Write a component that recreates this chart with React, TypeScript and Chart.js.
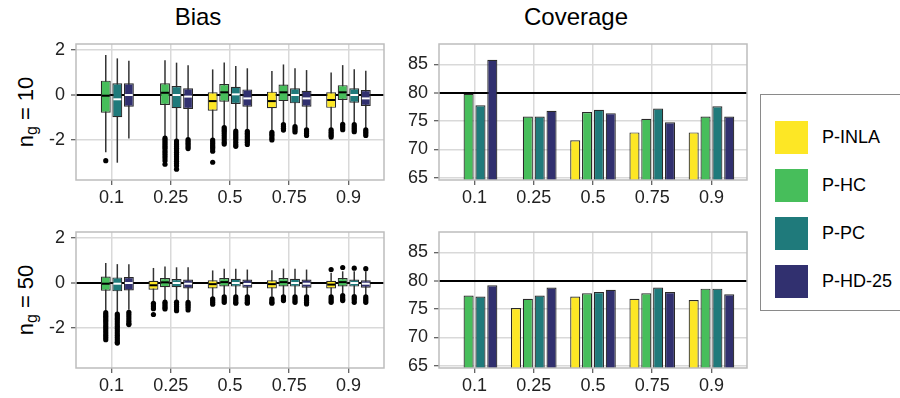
import React, { useEffect, useRef } from 'react';
import { Chart, registerables } from 'chart.js';
Chart.register(...registerables);

const categories = ['0.1', '0.25', '0.5', '0.75', '0.9'];
const methods = ['P-INLA', 'P-HC', 'P-PC', 'P-HD-25'];
const methodColors = ['#FDE725', '#47BE5B', '#1F7A7B', '#31306F'];
const medianColors = ['#000000', '#000000', '#FFFFFF', '#FFFFFF'];
const biasTicks = [-2, 0, 2];
const coverageTicks = [65, 70, 75, 80, 85];
const biasRange = [-3.78, 2.27];
const coverageRange = [64.6, 88.6];
const biasRef = 0;
const coverageRef = 80;

// ---- Bias, n_g = 10 (rows: methods, cols: categories) ----
const bias10Q3 = [
  [null, null, 0.12, 0.15, 0.12],
  [0.64, 0.52, 0.49, 0.47, 0.44],
  [0.52, 0.40, 0.37, 0.30, 0.30],
  [0.52, 0.30, 0.25, 0.19, 0.22],
];
const bias10Med = [
  [null, null, -0.27, -0.27, -0.22],
  [-0.03, 0.10, 0.12, 0.12, 0.12],
  [-0.19, 0.00, 0.03, 0.00, 0.00],
  [0.00, -0.07, -0.15, -0.15, -0.15],
];
const bias10Q1 = [
  [null, null, -0.70, -0.59, -0.57],
  [-0.79, -0.44, -0.30, -0.27, -0.22],
  [-0.99, -0.59, -0.40, -0.37, -0.34],
  [-0.52, -0.62, -0.52, -0.52, -0.49],
];
const bias10Hi = [
  [null, null, 1.14, 1.07, 1.00],
  [1.78, 1.55, 1.45, 1.36, 1.33],
  [1.63, 1.44, 1.29, 1.19, 1.15],
  [1.53, 1.33, 1.19, 1.11, 1.08],
];
const bias10Lo = [
  [null, null, -1.93, -1.59, -1.48],
  [-2.54, -1.85, -1.38, -1.26, -1.23],
  [-3.01, -2.00, -1.52, -1.33, -1.26],
  [-1.93, -1.90, -1.56, -1.48, -1.48],
];
const bias10Out = [
  [[], [], [-2.0, -2.08, -2.16, -2.24, -2.32, -2.4, -2.5, -2.99], [-1.66, -1.74, -1.82, -1.92, -2.0], [-1.55, -1.63, -1.71, -1.79, -1.87]],
  [[-2.92], [-1.92, -2.0, -2.08, -2.16, -2.24, -2.32, -2.4, -2.5, -2.6, -2.7, -2.8, -2.92, -3.08], [-1.45, -1.53, -1.61, -1.7, -1.8, -1.9, -2.0, -2.1, -2.18], [-1.32, -1.4, -1.48, -1.56], [-1.3, -1.38, -1.46, -1.54]],
  [[], [-2.05, -2.13, -2.21, -2.29, -2.37, -2.45, -2.55, -2.65, -2.75, -2.85, -2.95, -3.05, -3.15, -3.3], [-1.6, -1.68, -1.76, -1.84, -1.92, -2.0, -2.1, -2.2, -2.28], [-1.4, -1.48, -1.56, -1.64], [-1.32, -1.4, -1.48, -1.56, -1.63]],
  [[], [-1.98, -2.06, -2.14, -2.22, -2.3, -2.38], [-1.62, -1.7, -1.78, -1.86, -1.94, -2.02, -2.1, -2.2], [-1.55, -1.63, -1.71, -1.8], [-1.55, -1.63, -1.71, -1.8]],
];

// ---- Bias, n_g = 50 ----
const bias50Q3 = [
  [null, 0.10, 0.12, 0.12, 0.10],
  [0.29, 0.22, 0.22, 0.22, 0.22],
  [0.25, 0.18, 0.19, 0.19, 0.16],
  [0.27, 0.16, 0.16, 0.16, 0.12],
];
const bias50Med = [
  [null, -0.10, -0.05, -0.05, -0.07],
  [-0.03, 0.03, 0.04, 0.04, 0.04],
  [-0.03, 0.00, 0.00, 0.00, 0.00],
  [0.00, -0.03, -0.04, -0.03, -0.03],
];
const bias50Q1 = [
  [null, -0.30, -0.24, -0.24, -0.24],
  [-0.34, -0.19, -0.15, -0.15, -0.15],
  [-0.37, -0.19, -0.16, -0.16, -0.16],
  [-0.33, -0.24, -0.21, -0.21, -0.21],
];
const bias50Hi = [
  [null, 0.67, 0.56, 0.57, 0.45],
  [0.89, 0.74, 0.64, 0.64, 0.52],
  [0.84, 0.70, 0.64, 0.64, 0.52],
  [0.84, 0.70, 0.60, 0.60, 0.52],
];
const bias50Lo = [
  [null, -0.85, -0.64, -0.60, -0.55],
  [-1.29, -0.79, -0.55, -0.55, -0.49],
  [-1.33, -0.79, -0.55, -0.55, -0.52],
  [-1.19, -0.80, -0.55, -0.55, -0.55],
];
const bias50Out = [
  [[], [-0.9, -0.98, -1.06, -1.14, -1.4], [-0.7, -0.78, -0.86, -0.94], [-0.7, -0.78, -0.86, -0.9], [0.6, -0.62, -0.7, -0.78, -0.86]],
  [[-1.32, -1.4, -1.48, -1.56, -1.64, -1.72, -1.82, -1.92, -2.02, -2.12, -2.22, -2.32, -2.42, -2.52], [-0.85, -0.93, -1.01, -1.09, -1.15], [-0.62, -0.7, -0.78, -0.86], [-0.62, -0.7, -0.78], [0.69, -0.56, -0.64, -0.72, -0.78]],
  [[-1.38, -1.46, -1.54, -1.62, -1.72, -1.82, -1.92, -2.02, -2.12, -2.22, -2.32, -2.42, -2.52, -2.62, -2.67], [-0.85, -0.95, -1.05, -1.15, -1.23], [-0.62, -0.7, -0.78, -0.86, -0.9], [-0.62, -0.7, -0.78, -0.86], [0.66, -0.6, -0.68, -0.76, -0.86]],
  [[-1.3, -1.4, -1.5, -1.6, -1.7, -1.8, -1.85], [-0.86, -0.94, -1.02, -1.1, -1.2], [-0.62, -0.7, -0.78, -0.86, -0.9], [-0.62, -0.7, -0.78, -0.86, -0.93], [0.64, -0.62, -0.7, -0.78, -0.86]],
];

// ---- Coverage (%) ----
const coverage10 = [
  [null, null, 71.6, 73.0, 73.0],
  [79.8, 75.8, 76.6, 75.4, 75.8],
  [77.8, 75.8, 77.0, 77.2, 77.6],
  [85.8, 76.8, 76.4, 74.8, 75.8],
];
const coverage50 = [
  [null, 75.2, 77.2, 76.8, 76.6],
  [77.4, 76.8, 77.8, 77.8, 78.6],
  [77.2, 77.4, 78.0, 78.8, 78.6],
  [79.2, 78.8, 78.4, 78.0, 77.6],
];

const FONT = "'Liberation Sans', Arial, Helvetica, sans-serif";
const GRID = '#d9d9d9';
const TICK = '#333333';
const TEXT = '#222222';
const CW = 360;
const CH = 190;
const PAD_TOP = 20;

const borderPlugin = {
  id: 'panelBorder',
  afterDraw(chart: any) {
    const { ctx, chartArea: a } = chart;
    ctx.save();
    ctx.strokeStyle = '#bdbdbd';
    ctx.lineWidth = 1.5;
    ctx.strokeRect(a.left, a.top, a.right - a.left, a.bottom - a.top);
    ctx.restore();
  },
};

const boxPlugin = {
  id: 'boxExtras',
  beforeDatasetsDraw(chart: any) {
    const ctx = chart.ctx;
    const ys = chart.scales.y;
    ctx.save();
    ctx.strokeStyle = '#333333';
    ctx.lineWidth = 1.5;
    chart.data.datasets.forEach((ds: any, di: number) => {
      const meta = chart.getDatasetMeta(di);
      ds.data.forEach((d: any, j: number) => {
        const el = meta.data[j];
        if (!el || !d) return;
        ctx.beginPath();
        ctx.moveTo(el.x, ys.getPixelForValue(d.hi));
        ctx.lineTo(el.x, ys.getPixelForValue(d.lo));
        ctx.stroke();
      });
    });
    ctx.restore();
  },
  afterDatasetsDraw(chart: any) {
    const ctx = chart.ctx;
    const ys = chart.scales.y;
    const a = chart.chartArea;
    ctx.save();
    ctx.beginPath();
    ctx.rect(a.left, a.top, a.right - a.left, a.bottom - a.top);
    ctx.clip();
    chart.data.datasets.forEach((ds: any, di: number) => {
      const meta = chart.getDatasetMeta(di);
      ds.data.forEach((d: any, j: number) => {
        const el = meta.data[j];
        if (!el || !d) return;
        const w = el.width;
        const ym = ys.getPixelForValue(d.med);
        ctx.strokeStyle = ds.medianColor;
        ctx.lineWidth = 2;
        ctx.beginPath();
        ctx.moveTo(el.x - w / 2 + 1, ym);
        ctx.lineTo(el.x + w / 2 - 1, ym);
        ctx.stroke();
        ctx.fillStyle = '#000000';
        d.out.forEach((v: number) => {
          ctx.beginPath();
          ctx.arc(el.x, ys.getPixelForValue(v), 2.6, 0, Math.PI * 2);
          ctx.fill();
        });
      });
    });
    ctx.restore();
  },
};

function xScale() {
  return {
    type: 'linear',
    min: 0.4,
    max: categories.length + 0.6,
    offset: false,
    afterBuildTicks: (s: any) => {
      s.ticks = categories.map((_, i) => ({ value: i + 1 }));
    },
    afterFit: (s: any) => {
      s.height = 34;
    },
    grid: { color: GRID, lineWidth: 1.5, tickColor: TICK, tickWidth: 1, tickLength: 5, offset: false },
    border: { display: false },
    ticks: {
      autoSkip: false,
      maxRotation: 0,
      minRotation: 0,
      padding: 2,
      color: TEXT,
      font: { family: FONT, size: 18 },
      callback: (v: any) => categories[Math.round(Number(v)) - 1] ?? '',
    },
  };
}

function yScale(range: number[], ticks: number[], ref: number) {
  return {
    type: 'linear',
    min: range[0],
    max: range[1],
    afterBuildTicks: (s: any) => {
      s.ticks = ticks.map((v) => ({ value: v }));
    },
    afterFit: (s: any) => {
      s.width = 46;
    },
    grid: {
      color: (c: any) => (c.tick && c.tick.value === ref ? '#000000' : GRID),
      lineWidth: (c: any) => (c.tick && c.tick.value === ref ? 2 : 1.5),
      tickColor: TICK,
      tickWidth: 1,
      tickLength: 5,
    },
    border: { display: false },
    ticks: {
      padding: 6,
      color: TEXT,
      font: { family: FONT, size: 18 },
      callback: (v: any) => String(v),
    },
  };
}

function baseOptions(yRange: number[], yTicks: number[], ref: number) {
  return {
    responsive: false,
    animation: false,
    devicePixelRatio: 1,
    events: [],
    layout: { padding: { top: PAD_TOP, right: 6, left: 0, bottom: 0 }, autoPadding: false },
    plugins: { legend: { display: false }, tooltip: { enabled: false }, title: { display: false } },
    scales: { x: xScale(), y: yScale(yRange, yTicks, ref) },
  };
}

function biasConfig(q1: any[], med: any[], q3: any[], lo: any[], hi: any[], out: any[]) {
  return () => ({
    type: 'bar',
    data: {
      datasets: methods.map((m, mi) => ({
        label: m,
        data: categories
          .map((_, ci) =>
            q1[mi][ci] == null
              ? null
              : { x: ci + 1, y: [q1[mi][ci], q3[mi][ci]], med: med[mi][ci], lo: lo[mi][ci], hi: hi[mi][ci], out: out[mi][ci] }
          )
          .filter((d) => d !== null),
        backgroundColor: methodColors[mi],
        borderColor: '#2a2a2a',
        borderWidth: 1.2,
        borderSkipped: false,
        categoryPercentage: 0.78,
        barPercentage: 0.86,
        medianColor: medianColors[mi],
      })),
    },
    options: baseOptions(biasRange, biasTicks, biasRef),
    plugins: [boxPlugin, borderPlugin],
  });
}

function coverageConfig(values: any[]) {
  return () => ({
    type: 'bar',
    data: {
      datasets: methods.map((m, mi) => ({
        label: m,
        data: categories
          .map((_, ci) => (values[mi][ci] == null ? null : { x: ci + 1, y: values[mi][ci] }))
          .filter((d) => d !== null),
        backgroundColor: methodColors[mi],
        borderColor: '#2a2a2a',
        borderWidth: 1.2,
        borderSkipped: false,
        categoryPercentage: 0.8,
        barPercentage: 0.85,
      })),
    },
    options: baseOptions(coverageRange, coverageTicks, coverageRef),
    plugins: [borderPlugin],
  });
}

function Panel({ left, top, make }: { left: number; top: number; make: () => any }) {
  const ref = useRef<HTMLCanvasElement>(null);
  useEffect(() => {
    const chart = new Chart(ref.current as HTMLCanvasElement, make() as any);
    return () => chart.destroy();
  }, []);
  return (
    <canvas
      ref={ref}
      width={CW}
      height={CH}
      style={{ position: 'absolute', left, top, width: CW, height: CH }}
    />
  );
}

function RowLabel({ cx, cy, n }: { cx: number; cy: number; n: string }) {
  return (
    <div
      style={{
        position: 'absolute',
        left: cx,
        top: cy,
        transform: 'translate(-50%, -50%) rotate(-90deg)',
        whiteSpace: 'nowrap',
        fontFamily: FONT,
        fontSize: 22,
        lineHeight: '22px',
        color: '#000',
      }}
    >
      n<sub style={{ fontSize: 16, lineHeight: 0, verticalAlign: '-4px' }}>g</sub> = {n}
    </div>
  );
}

function Title({ cx, text }: { cx: number; text: string }) {
  return (
    <div
      style={{
        position: 'absolute',
        left: cx - 100,
        top: 5,
        width: 200,
        height: 24,
        lineHeight: '24px',
        textAlign: 'center',
        fontFamily: FONT,
        fontSize: 24,
        color: '#000',
      }}
    >
      {text}
    </div>
  );
}

export default function App() {
  const keyTops = [121, 169, 217, 265];
  return (
    <div
      style={{
        position: 'absolute',
        left: 0,
        top: 0,
        width: 900,
        height: 398,
        background: '#ffffff',
        overflow: 'hidden',
      }}
    >
      <Title cx={198} text="Bias" />
      <Title cx={576} text="Coverage" />
      <RowLabel cx={26} cy={112} n="10" />
      <RowLabel cx={26} cy={300} n="50" />
      <Panel left={30} top={44 - PAD_TOP} make={biasConfig(bias10Q1, bias10Med, bias10Q3, bias10Lo, bias10Hi, bias10Out)} />
      <Panel left={393} top={44 - PAD_TOP} make={coverageConfig(coverage10)} />
      <Panel left={30} top={232 - PAD_TOP} make={biasConfig(bias50Q1, bias50Med, bias50Q3, bias50Lo, bias50Hi, bias50Out)} />
      <Panel left={393} top={232 - PAD_TOP} make={coverageConfig(coverage50)} />
      <div
        style={{
          position: 'absolute',
          left: 760,
          top: 94,
          width: 160,
          height: 217,
          border: '1.5px solid #8a8a8a',
          boxSizing: 'border-box',
        }}
      />
      {methods.map((m, i) => (
        <React.Fragment key={m}>
          <div
            style={{
              position: 'absolute',
              left: 775,
              top: keyTops[i],
              width: 33,
              height: 33,
              background: methodColors[i],
            }}
          />
          <div
            style={{
              position: 'absolute',
              left: 822,
              top: keyTops[i],
              height: 33,
              lineHeight: '33px',
              fontFamily: FONT,
              fontSize: 18,
              color: '#000',
              whiteSpace: 'nowrap',
            }}
          >
            {m}
          </div>
        </React.Fragment>
      ))}
    </div>
  );
}
